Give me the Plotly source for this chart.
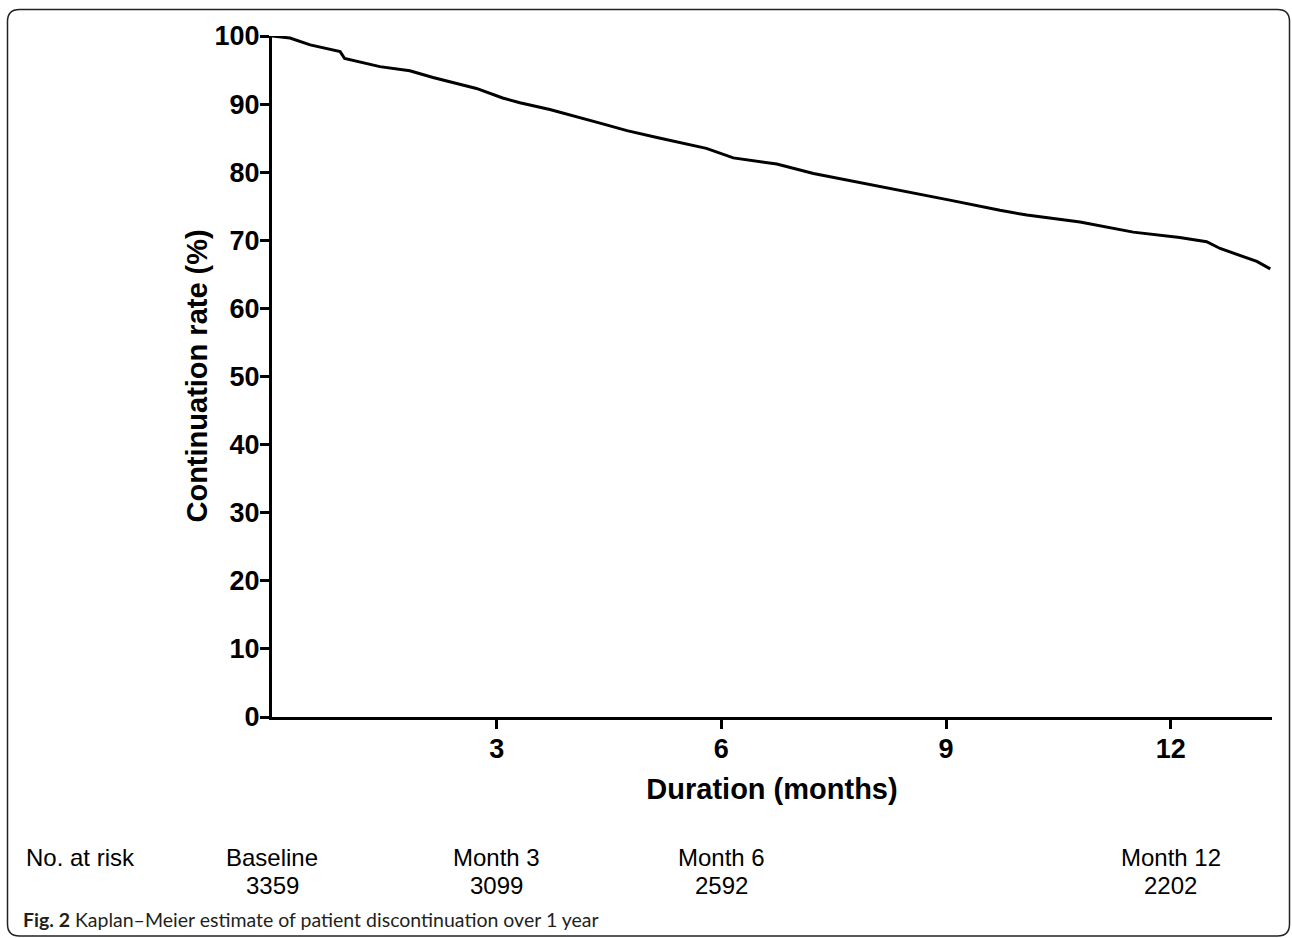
import plotly.graph_objects as go

# Kaplan-Meier curve
months = [0, 0.24, 0.51, 0.91, 0.97, 1.44, 1.84, 2.15, 2.73, 3.08, 3.31, 3.71, 4.38,
          4.74, 5.14, 5.80, 6.16, 6.74, 7.23, 7.94, 8.61, 9.05, 9.72, 10.08, 10.79,
          11.50, 12.12, 12.48, 12.66, 12.93, 13.15, 13.33]
continuation = [100, 99.7, 98.7, 97.7, 96.7, 95.5, 94.9, 93.9, 92.3, 90.9, 90.2, 89.2, 87.2,
                86.1, 85.1, 83.5, 82.1, 81.2, 79.8, 78.3, 76.8, 75.9, 74.4, 73.7, 72.7,
                71.2, 70.4, 69.8, 68.8, 67.8, 66.9, 65.8]

x_ticks = [3, 6, 9, 12]
y_ticks = [0, 10, 20, 30, 40, 50, 60, 70, 80, 90, 100]

risk_months = [0, 3, 6, 12]
risk_labels = ["Baseline", "Month 3", "Month 6", "Month 12"]
risk_counts = [3359, 3099, 2592, 2202]

W, H = 1292, 938
ML, MR, MT, MB = 272, 20, 36, 221
PW, PH = W - ML - MR, H - MT - MB
XMAX = PW / 74.89

def px_x(px):
    return (px - ML) / PW

def px_y(py):
    return (H - MB - py) / PH

FONT = "Liberation Sans, Arial, sans-serif"

fig = go.Figure()
fig.add_trace(go.Scatter(x=months, y=continuation, mode="lines",
                         line=dict(color="black", width=3), cliponaxis=False,
                         showlegend=False, hoverinfo="skip"))

fig.update_layout(
    width=W, height=H,
    margin=dict(l=ML, r=MR, t=MT, b=MB),
    plot_bgcolor="white", paper_bgcolor="white",
    font=dict(family=FONT, color="black"),
    xaxis=dict(range=[0, XMAX], tickvals=x_ticks, showline=True, linewidth=3,
               linecolor="black", ticks="outside", ticklen=9, tickwidth=3,
               tickcolor="black", showgrid=False, zeroline=False,
               ticklabelstandoff=-3,
               tickfont=dict(size=27, family=FONT, weight="bold"),
               title=dict(text="<b>Duration (months)</b>", font=dict(size=29, family=FONT),
                          standoff=16)),
    yaxis=dict(range=[0, 100], tickvals=y_ticks, showline=True, linewidth=3,
               linecolor="black", ticks="outside", ticklen=9, tickwidth=3,
               tickcolor="black", showgrid=False, zeroline=False,
               ticklabelstandoff=-5,
               tickfont=dict(size=27, family=FONT, weight="bold")),
)

# y-axis title
fig.add_annotation(text="<b>Continuation rate (%)</b>", xref="paper", yref="paper",
                   x=px_x(196), y=0.5, xanchor="center", yanchor="middle",
                   textangle=-90, showarrow=False,
                   font=dict(size=29, family=FONT, color="black"))

# number at risk table
fig.add_annotation(text="No. at risk", xref="paper", yref="paper", x=px_x(24), y=px_y(857),
                   xanchor="left", yanchor="middle", showarrow=False,
                   font=dict(size=24, family=FONT, color="black"))
for m, lab, n in zip(risk_months, risk_labels, risk_counts):
    fig.add_annotation(text=lab, xref="x", yref="paper", x=m, y=px_y(857),
                       xanchor="center", yanchor="middle", showarrow=False,
                       font=dict(size=24, family=FONT, color="black"))
    fig.add_annotation(text=str(n), xref="x", yref="paper", x=m, y=px_y(885),
                       xanchor="center", yanchor="middle", showarrow=False,
                       font=dict(size=24, family=FONT, color="black"))

# caption
fig.add_annotation(text="<b>Fig. 2</b> Kaplan–Meier estimate of patient discontinuation over 1 year",
                   xref="paper", yref="paper", x=px_x(21), y=px_y(919),
                   xanchor="left", yanchor="middle", showarrow=False,
                   font=dict(size=19.5, family="Lato, Open Sans, sans-serif", color="#231f20"))

# rounded frame
x0, y0, x1, y1, r = 7.5, 9.5, 1289.5, 936, 12
def P(px, py):
    return f"{px_x(px):.5f},{px_y(py):.5f}"
path = (f"M {P(x0 + r, y0)} L {P(x1 - r, y0)} Q {P(x1, y0)} {P(x1, y0 + r)} "
        f"L {P(x1, y1 - r)} Q {P(x1, y1)} {P(x1 - r, y1)} "
        f"L {P(x0 + r, y1)} Q {P(x0, y1)} {P(x0, y1 - r)} "
        f"L {P(x0, y0 + r)} Q {P(x0, y0)} {P(x0 + r, y0)} Z")
fig.add_shape(type="path", path=path, xref="paper", yref="paper",
              line=dict(color="#222222", width=1.5))

fig.write_html("out.html")
